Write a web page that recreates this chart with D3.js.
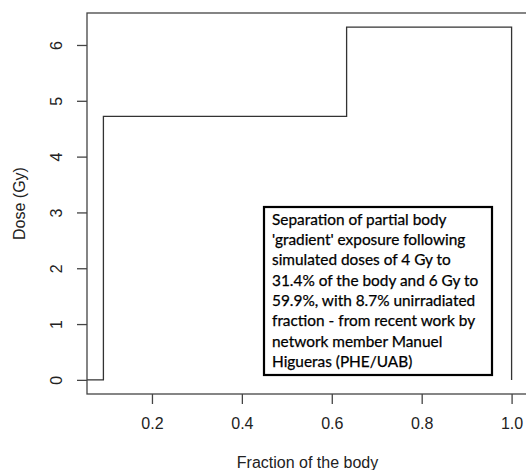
<!DOCTYPE html>
<html>
<head>
<meta charset="utf-8">
<script src="https://cdn.jsdelivr.net/npm/d3@7"></script>
<style>
  body { margin: 0; background: #fff; }
  .tick-label, .axis-title { font-family: "Liberation Sans", Arial, sans-serif; font-size: 16px; fill: #222; }
  .note { font-family: Lato, "Open Sans", sans-serif; font-size: 15.4px; fill: #000; stroke: #000; stroke-width: 0.25px; }
</style>
</head>
<body>
<svg id="chart"></svg>
<script>
// Step points: dose level starting at each fraction (step-after).
const fractions = [0, 0.092, 0.633, 1.0];
const doses = [0, 4.72, 6.32, 0];

const xTicks = [0.2, 0.4, 0.6, 0.8, 1.0];
const yTicks = [0, 1, 2, 3, 4, 5, 6];

const noteLines = [
    "Separation of partial body",
    "'gradient' exposure following",
    "simulated doses of 4 Gy to",
    "31.4% of the body and 6 Gy to",
    "59.9%, with 8.7% unirradiated",
    "fraction - from recent work by",
    "network member Manuel",
    "Higueras (PHE/UAB)"
];

const W = 526, H = 470;
const plot = { left: 87, right: 528, top: 13, bottom: 394 };

const svg = d3.select("#chart").attr("width", W).attr("height", H);

// R-style 4% padding around the data range.
const x = d3.scaleLinear().domain([0.0555, 1.0365]).range([plot.left, plot.right]);
const y = d3.scaleLinear().domain([-0.253, 6.573]).range([plot.bottom, plot.top]);

svg.append("clipPath").attr("id", "plot-clip")
    .append("rect")
    .attr("x", plot.left).attr("y", plot.top)
    .attr("width", plot.right - plot.left).attr("height", plot.bottom - plot.top);

// The step line.
const line = d3.line()
    .x((d, i) => x(fractions[i]))
    .y(d => y(d))
    .curve(d3.curveStepAfter);
svg.append("path")
    .datum(doses)
    .attr("clip-path", "url(#plot-clip)")
    .attr("fill", "none")
    .attr("stroke", "#333")
    .attr("stroke-width", 1.3)
    .attr("d", line);

// Plot box.
svg.append("rect")
    .attr("x", plot.left).attr("y", plot.top)
    .attr("width", plot.right - plot.left).attr("height", plot.bottom - plot.top)
    .attr("fill", "none").attr("stroke", "#444").attr("stroke-width", 1.3);

// Axes -- ticks only, the box draws the axis lines.
const xAxis = svg.append("g")
    .attr("transform", `translate(0,${plot.bottom})`)
    .call(d3.axisBottom(x).tickValues(xTicks).tickSize(10).tickPadding(14).tickFormat(d3.format(".1f")));
xAxis.select(".domain").remove();
xAxis.selectAll(".tick line").attr("stroke", "#444").attr("stroke-width", 1.3);
xAxis.selectAll(".tick text").attr("class", "tick-label").attr("fill", null);

const yAxis = svg.append("g")
    .attr("transform", `translate(${plot.left},0)`)
    .call(d3.axisLeft(y).tickValues(yTicks).tickSize(10).tickFormat(d3.format("d")));
yAxis.select(".domain").remove();
yAxis.selectAll(".tick line").attr("stroke", "#444").attr("stroke-width", 1.3);
yAxis.selectAll(".tick text")
    .attr("class", "tick-label")
    .attr("fill", null)
    .attr("x", null).attr("dy", null)
    .attr("text-anchor", "middle")
    .attr("transform", "translate(-25,0) rotate(-90)");

// Axis titles.
svg.append("text")
    .attr("class", "axis-title")
    .attr("x", (plot.left + plot.right) / 2)
    .attr("y", 468)
    .attr("text-anchor", "middle")
    .text("Fraction of the body");

svg.append("text")
    .attr("class", "axis-title")
    .attr("transform", `translate(25,${(plot.top + plot.bottom) / 2}) rotate(-90)`)
    .attr("text-anchor", "middle")
    .text("Dose (Gy)");

// Annotation box.
const note = svg.append("g");
note.append("rect")
    .attr("x", 264).attr("y", 207)
    .attr("width", 228).attr("height", 168)
    .attr("fill", "#fff").attr("stroke", "#000").attr("stroke-width", 2.2);
note.selectAll("text.note")
    .data(noteLines)
    .join("text")
    .attr("class", "note")
    .attr("x", 272)
    .attr("y", (d, i) => 224.7 + i * 20.3)
    .text(d => d);
</script>
</body>
</html>
